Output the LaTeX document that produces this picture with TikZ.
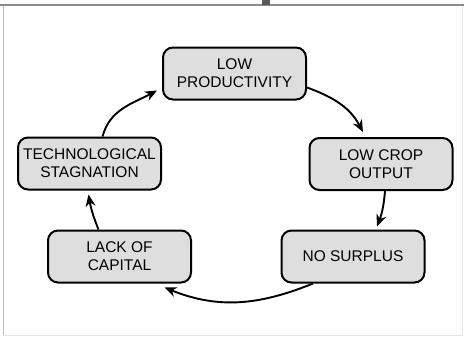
\documentclass[tikz,border=0pt]{standalone}
\usepackage{fontspec}
\setmainfont{Liberation Sans}
\usetikzlibrary{arrows.meta}
\begin{document}
\begin{tikzpicture}[x=1pt,y=-1pt,
  stage/.style={draw=black, line width=2pt, rounded corners=10pt, fill=black!13,
    minimum width=143pt, minimum height=52pt, inner sep=0pt, align=center,
    font=\fontsize{15.5}{18}\selectfont},
  flow/.style={line width=1.9pt, -{Stealth[length=12pt,width=10pt]}}]
  % page and frame
  \useasboundingbox[fill=white] (0,0) rectangle (464,338);
  \draw[black!45, line width=1.6pt] (0,5) -- (464,5);
  \fill[black!65] (262,0) rectangle (270,5);
  \draw[black!25, line width=1pt] (3,6) -- (3,335);
  \draw[black!10, line width=1pt] (3,335) -- (462,335) -- (462,6);
  % stages of the cycle
  \node[stage] (prod) at (234.5,73.5) {LOW\\PRODUCTIVITY};
  \node[stage] (crop) at (381,164) {LOW CROP\\OUTPUT};
  \node[stage] (surp) at (353,256.5) {NO SURPLUS};
  \node[stage] (cap)  at (119.5,256.5) {LACK OF\\CAPITAL};
  \node[stage] (tech) at (89.5,163.5) {TECHNOLOGICAL\\STAGNATION};
  % connectors
  \draw[flow] ([yshift=-14pt]prod.east) to[out=-20,in=118] ([xshift=-18pt,yshift=5pt]crop.north);
  \draw[flow] ([xshift=4pt]crop.south) to[bend left=8] ([xshift=24pt,yshift=3pt]surp.north);
  \draw[flow] ([xshift=-40pt]surp.south) to[out=-158,in=-22] ([xshift=45pt,yshift=-4pt]cap.south);
  \draw[flow] ([xshift=-21pt]cap.north) to[bend left=6] ([xshift=-1pt,yshift=-4pt]tech.south);
  \draw[flow] ([xshift=13pt]tech.north) to[out=75,in=-152] ([xshift=-5pt,yshift=-17pt]prod.west);
\end{tikzpicture}
\end{document}
